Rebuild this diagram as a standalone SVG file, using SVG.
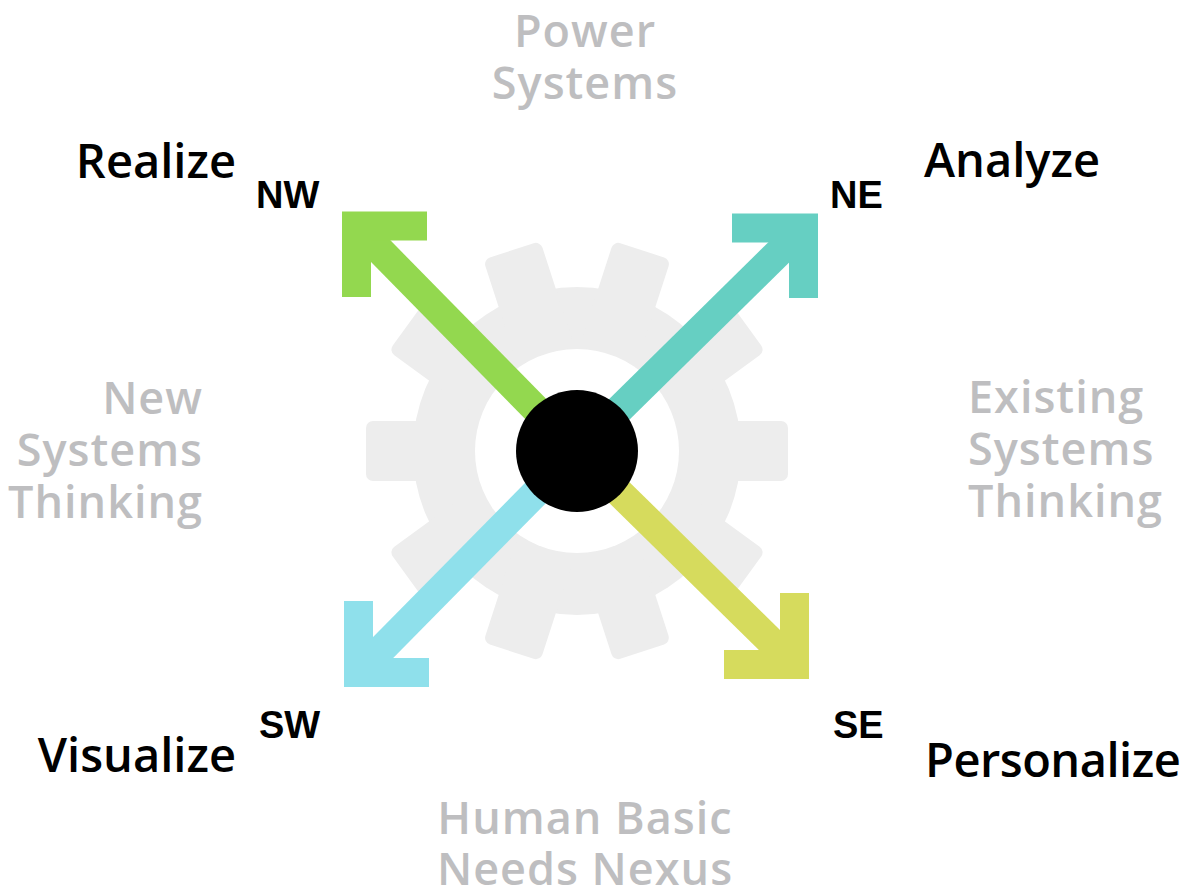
<svg xmlns="http://www.w3.org/2000/svg" width="1184" height="890" viewBox="0 0 1184 890">
<style>
.gray{font-family:"Open Sans","Liberation Sans",sans-serif;font-weight:600;font-size:45px;letter-spacing:1px;fill:#BEBEC0}
.lbl{font-family:"Open Sans","Liberation Sans",sans-serif;font-weight:600;font-size:47px;fill:#000}
.dir{font-family:"Liberation Sans",Arial,sans-serif;font-weight:700;font-size:38px;fill:#000}
.tooth{fill:#EDEDED}
.arr{fill:none;stroke-width:29;stroke-linecap:butt;stroke-linejoin:miter;stroke-miterlimit:10}
</style>
<rect width="1184" height="890" fill="#fff"/>
<g id="gear">
<circle cx="577" cy="451" r="164" fill="#EDEDED"/>
<g transform="translate(577 451)">
<rect class="tooth" x="100" y="-30" width="111" height="60" rx="7" transform="rotate(0)"/>
<rect class="tooth" x="100" y="-30" width="111" height="60" rx="7" transform="rotate(36)"/>
<rect class="tooth" x="100" y="-30" width="111" height="60" rx="7" transform="rotate(72)"/>
<rect class="tooth" x="100" y="-30" width="111" height="60" rx="7" transform="rotate(108)"/>
<rect class="tooth" x="100" y="-30" width="111" height="60" rx="7" transform="rotate(144)"/>
<rect class="tooth" x="100" y="-30" width="111" height="60" rx="7" transform="rotate(180)"/>
<rect class="tooth" x="100" y="-30" width="111" height="60" rx="7" transform="rotate(216)"/>
<rect class="tooth" x="100" y="-30" width="111" height="60" rx="7" transform="rotate(252)"/>
<rect class="tooth" x="100" y="-30" width="111" height="60" rx="7" transform="rotate(288)"/>
<rect class="tooth" x="100" y="-30" width="111" height="60" rx="7" transform="rotate(324)"/>
</g>
<circle cx="577" cy="451" r="102" fill="#fff"/>
</g>
<g id="connectors">
<g id="arrow-nw" stroke="#93D84F">
<line class="arr" x1="356.5" y1="226.5" x2="577" y2="451"/>
<path class="arr" d="M427 226 H356.5 V297"/>
</g>
<g id="arrow-ne" stroke="#66CFC2">
<line class="arr" x1="803.5" y1="228" x2="577" y2="451"/>
<path class="arr" d="M732 228 H803.5 V298"/>
</g>
<g id="arrow-sw" stroke="#8FE0EB">
<line class="arr" x1="358.5" y1="672.5" x2="577" y2="451"/>
<path class="arr" d="M358.5 601 V672.5 H429"/>
</g>
<g id="arrow-se" stroke="#D6DB5D">
<line class="arr" x1="794.5" y1="664.5" x2="577" y2="451"/>
<path class="arr" d="M794.5 593 V664.5 H724"/>
</g>
</g>
<g id="hub"><circle cx="577" cy="451" r="61" fill="#000"/></g>
<g id="power-systems"><text class="gray" x="585" y="47" text-anchor="middle">Power</text><text class="gray" x="585" y="99" text-anchor="middle">Systems</text></g>
<g id="new-systems"><text class="gray" x="203" y="414" text-anchor="end">New</text><text class="gray" x="203" y="466" text-anchor="end">Systems</text><text class="gray" x="203" y="518" text-anchor="end">Thinking</text></g>
<g id="existing-systems"><text class="gray" x="968" y="413">Existing</text><text class="gray" x="968" y="465">Systems</text><text class="gray" x="968" y="517">Thinking</text></g>
<g id="human-needs"><text class="gray" x="585" y="834" text-anchor="middle">Human Basic</text><text class="gray" x="585" y="885" text-anchor="middle">Needs Nexus</text></g>
<g id="realize"><text class="lbl" x="236" y="178" text-anchor="end">Realize</text><text class="dir" x="256" y="208">NW</text></g>
<g id="analyze"><text class="lbl" x="924" y="177">Analyze</text><text class="dir" x="830" y="208">NE</text></g>
<g id="visualize"><text class="lbl" x="236" y="772" text-anchor="end">Visualize</text><text class="dir" x="259" y="738">SW</text></g>
<g id="personalize"><text class="lbl" x="925" y="777" letter-spacing="-0.5">Personalize</text><text class="dir" x="833" y="738">SE</text></g>
</svg>
